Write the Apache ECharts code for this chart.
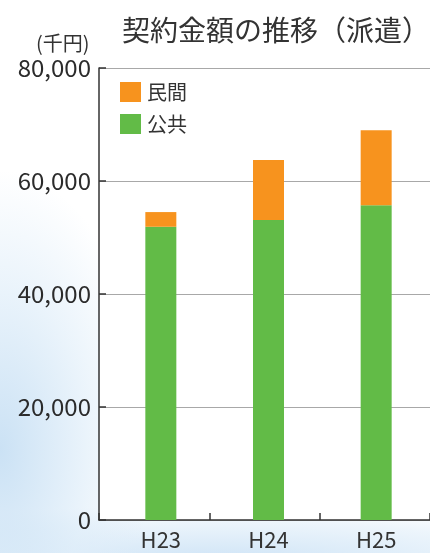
<!DOCTYPE html>
<html><head><meta charset="utf-8">
<script src="https://cdn.jsdelivr.net/npm/echarts@6/dist/echarts.min.js"></script>
<style>
html,body{margin:0;padding:0;}
body{width:430px;height:553px;overflow:hidden;
background:
 radial-gradient(ellipse 150px 280px at 0px 450px, rgba(200,224,244,0.95), rgba(222,237,249,0.6) 60%, rgba(255,255,255,0) 100%),
 radial-gradient(ellipse 430px 55px at 220px 560px, rgba(205,227,246,0.95), rgba(222,237,249,0.55) 70%, rgba(255,255,255,0) 100%),
 #ffffff;}
#c{width:430px;height:553px;}
</style></head>
<body><div id="c"></div>
<script>
const categories = ['H23', 'H24', 'H25'];
const publicValues = [51900, 53100, 55700];   // 公共
const privateValues = [2600, 10600, 13300];   // 民間
const yTicks = [0, 20000, 40000, 60000, 80000];

const chart = echarts.init(document.getElementById('c'), null, {renderer: 'canvas'});
const font = '"Noto Sans CJK JP", "Noto Sans", sans-serif';
const yMin = yTicks[0], yMax = yTicks[yTicks.length - 1];
chart.setOption({
  backgroundColor: 'transparent',
  animation: false,
  textStyle: {fontFamily: font},
  title: [{
    text: '契約金額の推移（派遣）',
    left: 117, top: 11,
    textStyle: {fontSize: 28, fontWeight: 'normal', color: '#333', fontFamily: font}
  }, {
    text: '(千円)',
    left: 31, top: 28,
    textStyle: {fontSize: 20, fontWeight: 'normal', color: '#333', fontFamily: font}
  }],
  legend: {
    orient: 'vertical', left: 115, top: 77,
    itemWidth: 21, itemHeight: 20, itemGap: 12,
    icon: 'rect',
    data: ['民間', '公共'],
    textStyle: {fontSize: 20, color: '#333', fontFamily: font, padding: [0,0,0,1]}
  },
  grid: [
    {left: 99, right: -9.5, top: 68, bottom: 33, show: true, backgroundColor: '#ffffff', borderWidth: 0},
    {left: 107, right: -17.5, top: 68, bottom: 33}
  ],
  xAxis: [{
    gridIndex: 0, type: 'category', data: categories,
    axisLine: {lineStyle: {color: '#333', width: 1.5}},
    axisTick: {show: true, inside: true, length: 7, lineStyle: {color: '#333', width: 1.5}},
    axisLabel: {show: false}
  }, {
    gridIndex: 1, type: 'category', data: categories,
    axisLine: {show: false}, axisTick: {show: false},
    axisLabel: {fontSize: 22, color: '#333', margin: 9, fontFamily: font}
  }],
  yAxis: [{
    gridIndex: 0, type: 'value', min: yMin, max: yMax, interval: 20000,
    axisLine: {show: true, lineStyle: {color: '#333', width: 1.5}},
    axisTick: {show: true, inside: true, length: 7, lineStyle: {color: '#333', width: 1.5}},
    splitLine: {lineStyle: {color: '#a8a8a8', width: 1}},
    axisLabel: {fontSize: 24, color: '#2b2b2b', margin: 8, fontFamily: font,
      formatter: v => v.toLocaleString('en-US')}
  }, {
    gridIndex: 1, type: 'value', min: yMin, max: yMax, interval: 20000,
    show: false, splitLine: {show: false}
  }],
  series: [{
    name: '公共', type: 'bar', stack: 's', data: publicValues,
    xAxisIndex: 1, yAxisIndex: 1,
    barWidth: 31, itemStyle: {color: '#62bb47'}
  }, {
    name: '民間', type: 'bar', stack: 's', data: privateValues,
    xAxisIndex: 1, yAxisIndex: 1,
    barWidth: 31, itemStyle: {color: '#f7931e'}
  }]
});
</script></body></html>
